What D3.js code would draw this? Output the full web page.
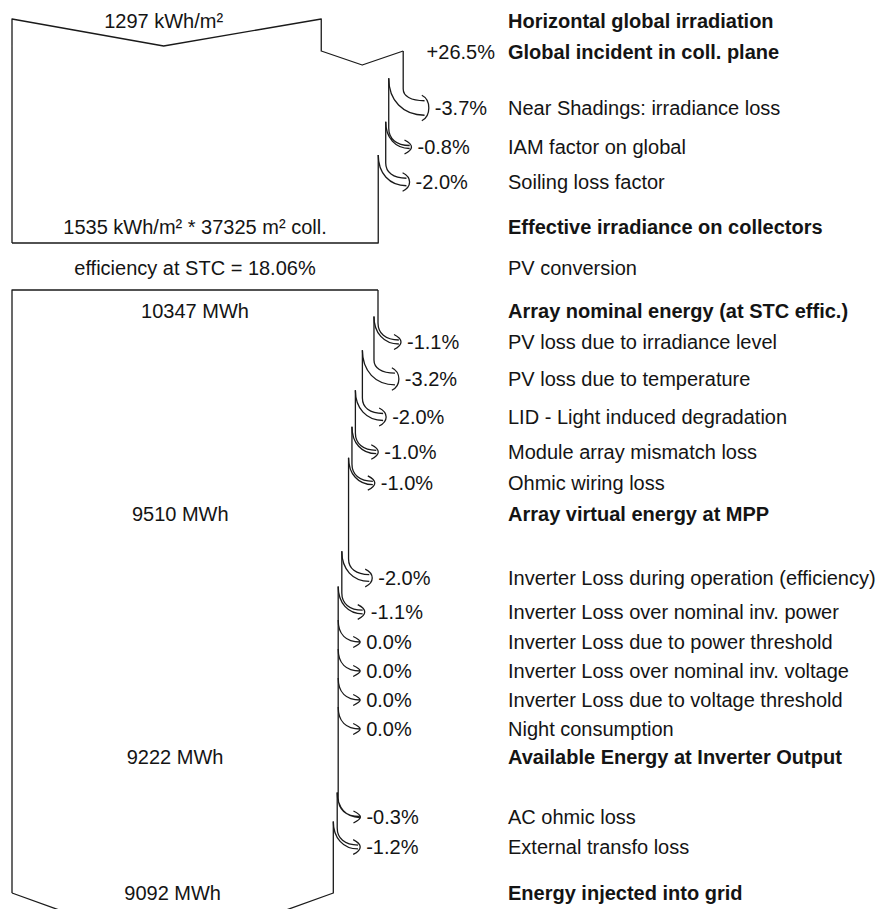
<!DOCTYPE html>
<html>
<head>
<meta charset="utf-8">
<script src="https://cdn.jsdelivr.net/npm/d3@7"></script>
<style>
  body { margin: 0; background: #fff; }
  svg text { font-family: "Liberation Sans", Arial, sans-serif; font-size: 20px; fill: #141414; }
</style>
</head>
<body>
<svg id="chart"></svg>
<script>
// irradiance part (kWh/m²)
const horizIrr = 1297;
const globalGainPct = 26.5;
const irrLossPct = [-3.7, -0.8, -2.0];
const irrLossLabels = ["Near Shadings: irradiance loss", "IAM factor on global", "Soiling loss factor"];
const effIrr = 1535;
const collArea = 37325;
const stcEff = 18.06;

// energy part (MWh)
const nominalEnergy = 10347;
const arrayLossPct = [-1.1, -3.2, -2.0, -1.0, -1.0];
const arrayLossLabels = ["PV loss due to irradiance level", "PV loss due to temperature",
  "LID - Light induced degradation", "Module array mismatch loss", "Ohmic wiring loss"];
const mppEnergy = 9510;
const invLossPct = [-2.0, -1.1, 0.0, 0.0, 0.0, 0.0];
const invLossLabels = ["Inverter Loss during operation (efficiency)", "Inverter Loss over nominal inv. power",
  "Inverter Loss due to power threshold", "Inverter Loss over nominal inv. voltage",
  "Inverter Loss due to voltage threshold", "Night consumption"];
const invEnergy = 9222;
const gridLossPct = [-0.3, -1.2];
const gridLossLabels = ["AC ohmic loss", "External transfo loss"];
const gridEnergy = 9092;

const stepTitles = ["Horizontal global irradiation", "Global incident in coll. plane",
  "Effective irradiance on collectors", "PV conversion", "Array nominal energy (at STC effic.)",
  "Array virtual energy at MPP", "Available Energy at Inverter Output", "Energy injected into grid"];

// layout: vertical gap before each row
const rowGap = [0, 31, 56, 39, 35, 45, 41, 43, 31, 37, 38, 35, 31, 31, 64, 34, 30, 29, 29, 29, 28, 60, 30, 46];
const rowPos = d3.cumsum(rowGap);

const width = 890, height = 909;
const labelX = 508;

const y = d3.scaleLinear().domain([0, rowPos[rowPos.length - 1]]).range([21, 893]);
const rowY = (i) => y(rowPos[i]);
const xIrr = d3.scaleLinear().domain([0, effIrr]).range([12, 378]);
const xEn = d3.scaleLinear().domain([0, nominalEnergy]).range([12, 378]);

const svg = d3.select("#chart").attr("width", width).attr("height", height);
svg.append("rect").attr("width", width).attr("height", height).attr("fill", "#fff");

const lines = svg.append("g")
  .attr("fill", "none")
  .attr("stroke", "#1a1a1a")
  .attr("stroke-width", 1.3)
  .attr("stroke-linejoin", "round");
const texts = svg.append("g");

const addPath = (p) => lines.append("path").attr("d", p.toString());

function addText(str, x, yy, opts = {}) {
  texts.append("text")
    .attr("x", x)
    .attr("y", yy)
    .attr("dy", "0.35em")
    .attr("text-anchor", opts.anchor || "start")
    .attr("font-weight", opts.bold ? "bold" : null)
    .text(str);
}

// draw one loss arrow, returns the value after the loss
function drawLoss(x, val, pct, yRow, state) {
  const R = x(val);
  const next = val * (1 + pct / 100);
  const w = R - x(next);
  const tip = R + 22 + w * 0.25;
  const half = w / 2;
  const yTop = yRow - half, yBot = yRow + half;
  const spread = 5.5;
  const headX = tip - 7;
  const bandEnd = headX + (tip - headX) * (spread / (half + spread)) - 0.3;
  const p = d3.path();
  if (w > 0.6) {
    const y0 = yRow - 19;
    const y1 = yRow - 24 - w * 0.4;
    p.moveTo(R, state.top);
    p.lineTo(R, y0);
    p.bezierCurveTo(R, y0 + (yTop - y0) * 0.6, R + (bandEnd - R) * 0.35, yTop, bandEnd, yTop);
    p.moveTo(R - w, y1);
    p.bezierCurveTo(R - w, y1 + (yBot - y1) * 0.6, R - w + (bandEnd - R + w) * 0.4, yBot, bandEnd, yBot);
    state.top = y1;
  } else {
    const y0 = yRow - 22;
    p.moveTo(R, y0);
    p.bezierCurveTo(R, y0 + 14, R + (tip - R) * 0.35, yRow, tip, yRow);
  }
  // arrow head
  p.moveTo(headX, yTop - spread);
  p.quadraticCurveTo(tip, yTop - 2, tip, yRow);
  p.quadraticCurveTo(tip, yBot + 2, headX, yBot + spread);
  addPath(p);

  addText(pct.toFixed(1) + "%", tip + 6, yRow);
  return next;
}

// ---------- irradiance box ----------
const top1 = rowY(0) - 2;
const xH = xIrr(horizIrr);
const globalIrr = horizIrr * (1 + globalGainPct / 100);
const xG = xIrr(globalIrr);
const gainTop = rowY(1) - 1;

const p1 = d3.path();
p1.moveTo(xIrr(0), rowY(5) + 16);
p1.lineTo(xIrr(0), top1);
p1.lineTo((xIrr(0) + xH) / 2 - 3, top1 + 27);
p1.lineTo(xH, top1);
p1.lineTo(xH, gainTop);
p1.lineTo((xH + xG) / 2, gainTop + 14);
p1.lineTo(xG, gainTop);
addPath(p1);

let state = { top: gainTop };
let v = globalIrr;
irrLossPct.forEach((pct, i) => {
  v = drawLoss(xIrr, v, pct, rowY(2 + i), state);
  addText(irrLossLabels[i], labelX, rowY(2 + i));
});
const bottom1 = rowY(5) + 16;
const b1 = d3.path();
b1.moveTo(xIrr(v), state.top);
b1.lineTo(xIrr(v), bottom1);
b1.lineTo(xIrr(0), bottom1);
addPath(b1);

addText(horizIrr + " kWh/m²", (xIrr(0) + xH) / 2 - 3, rowY(0), { anchor: "middle" });
addText("+" + globalGainPct.toFixed(1) + "%", 495, rowY(1), { anchor: "end" });
addText(`${effIrr} kWh/m² * ${collArea} m² coll.`, (xIrr(0) + xIrr(effIrr)) / 2, rowY(5), { anchor: "middle" });
addText(`efficiency at STC = ${stcEff.toFixed(2)}%`, (xIrr(0) + xIrr(effIrr)) / 2, rowY(6), { anchor: "middle" });

// ---------- energy box ----------
const top2 = rowY(7) - 21;
const p2 = d3.path();
p2.moveTo(xEn(nominalEnergy), top2);
p2.lineTo(xEn(0), top2);
p2.lineTo(xEn(0), rowY(23));
addPath(p2);

state = { top: top2 };
let e = nominalEnergy;
arrayLossPct.forEach((pct, i) => {
  e = drawLoss(xEn, e, pct, rowY(8 + i), state);
  addText(arrayLossLabels[i], labelX, rowY(8 + i));
});
const xMpp = xEn(e);
invLossPct.forEach((pct, i) => {
  e = drawLoss(xEn, e, pct, rowY(14 + i), state);
  addText(invLossLabels[i], labelX, rowY(14 + i));
});
const xInv = xEn(e);
gridLossPct.forEach((pct, i) => {
  e = drawLoss(xEn, e, pct, rowY(21 + i), state);
  addText(gridLossLabels[i], labelX, rowY(21 + i));
});
const xEnd = xEn(e);
const bottom2 = rowY(23);
const b2 = d3.path();
b2.moveTo(xEnd, state.top);
b2.lineTo(xEnd, bottom2);
b2.lineTo((xEn(0) + xEnd) / 2, bottom2 + 0.18 * (xEnd - xEn(0)));
b2.lineTo(xEn(0), bottom2);
addPath(b2);

addText(nominalEnergy + " MWh", (xEn(0) + xEn(nominalEnergy)) / 2, rowY(7), { anchor: "middle" });
addText(mppEnergy + " MWh", (xEn(0) + xMpp) / 2, rowY(13), { anchor: "middle" });
addText(invEnergy + " MWh", (xEn(0) + xInv) / 2, rowY(20), { anchor: "middle" });
addText(gridEnergy + " MWh", (xEn(0) + xEnd) / 2, rowY(23), { anchor: "middle" });

// bold step titles on the right
[0, 1, 5, 6, 7, 13, 20, 23].forEach((r, i) => {
  addText(stepTitles[i], labelX, rowY(r), { bold: r !== 6 });
});
</script>
</body>
</html>
